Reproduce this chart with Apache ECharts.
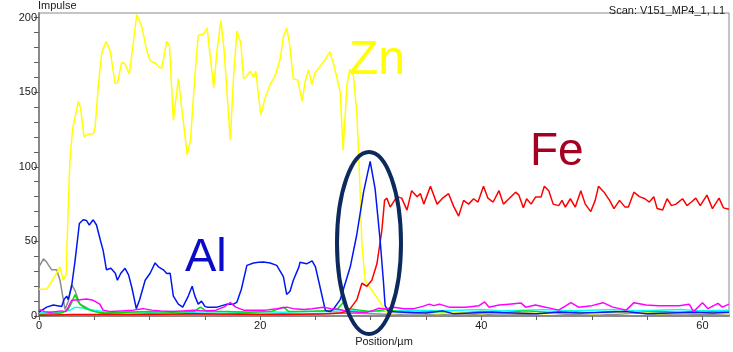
<!DOCTYPE html>
<html lang="en">

<head>
  <meta charset="UTF-8">
  <title>Impulse profile</title>
  <script src="https://cdn.jsdelivr.net/npm/echarts@6/dist/echarts.min.js"></script>
  <style>
    html, body { margin: 0; padding: 0; background: #fff; }
  </style>
</head>

<body>
  <div id="main" style="width:733px;height:352px;"></div>
</body>
<script>
  // [position µm, impulse]
  let zn = [
    [0, 18], [0.7, 18], [1.3, 25], [1.9, 33], [2.2, 24], [2.45, 28], [2.65, 74], [2.8, 105], [3.05, 126], [3.26, 133],
    [3.56, 144], [3.77, 139], [4.07, 120], [4.46, 122], [4.9, 122], [5.07, 126], [5.37, 155], [5.67, 176], [6.06, 184],
    [6.43, 178], [6.88, 156], [7.09, 156], [7.48, 170], [7.78, 169], [8.17, 162], [8.53, 183], [8.84, 202], [9.29, 194],
    [9.74, 178], [10.05, 171], [10.6, 169], [10.8, 167], [11.1, 166], [11.55, 184], [11.8, 181], [12.15, 131], [12.3, 131],
    [12.6, 159], [12.77, 158], [13.4, 108], [13.7, 118], [14.1, 161], [14.4, 188], [14.9, 189], [15.2, 193], [15.8, 153],
    [16.1, 178], [16.45, 198], [16.74, 178], [17.3, 118], [17.6, 161], [17.9, 191], [18.25, 183], [18.5, 159], [18.8, 161],
    [19.1, 164], [19.4, 160], [19.6, 164], [20.06, 135], [20.45, 146], [20.9, 155], [21.36, 161], [21.8, 172], [22.1, 187],
    [22.4, 193], [22.65, 183], [23.0, 159], [23.4, 158], [23.8, 144], [24.07, 157], [24.37, 165], [24.68, 155], [24.97, 163],
    [25.4, 167], [25.9, 172], [26.3, 177], [26.6, 170], [26.9, 161], [27.24, 150], [27.5, 111], [27.85, 155], [28.1, 165],
    [28.44, 161], [28.75, 135], [29.0, 92], [29.2, 48], [29.5, 24], [29.95, 19], [30.5, 13], [30.86, 9], [31.2, 5],
    [31.5, 2], [32, 1.5], [34, 2.5], [36, 1.5], [38, 2.5], [40, 1.5], [42, 2.5], [44, 2], [46, 1.5], [48, 2.5], [50, 1.5],
    [52, 2], [54, 2.5], [56, 1.5], [58, 2], [60, 2.5], [62.4, 1.5]
  ]

  let fe = [
    [0, 0.5], [3, 1], [6, 1], [10, 1], [14, 1.5], [18, 1.2], [22, 1], [26, 1.5], [27.2, 2], [27.7, 3], [28.15, 5],
    [28.75, 11], [29.2, 22], [29.65, 20], [30.1, 24], [30.56, 35], [31.0, 57], [31.25, 77.5], [31.46, 79], [31.76, 73],
    [32.37, 80], [32.8, 79], [33.28, 71], [33.7, 84], [34.2, 80], [34.5, 82], [34.8, 75], [35.4, 87], [36.0, 75],
    [36.5, 79], [37.04, 82], [37.5, 73.5], [37.95, 67], [38.4, 77.5], [38.85, 75], [39.3, 78.6], [39.7, 76.4], [40.2, 87],
    [40.6, 79], [41.07, 76.4], [41.6, 84], [42.0, 75], [42.5, 78.6], [43.1, 83], [43.4, 81], [43.8, 72.5], [44.1, 78.6],
    [44.5, 75], [44.9, 79.7], [45.4, 79.7], [45.7, 87], [46.1, 84], [46.5, 75], [47.0, 74], [47.3, 77.5], [47.6, 73],
    [48.05, 78.6], [48.5, 73], [49.0, 84], [49.4, 75], [49.9, 70], [50.3, 77.5], [50.6, 87], [51.1, 83], [51.6, 77.5],
    [52.0, 72], [52.5, 77.5], [53.0, 73], [53.3, 73], [53.8, 83], [54.3, 80], [54.8, 78.6], [55.2, 76.4], [55.6, 80],
    [55.9, 72], [56.4, 71], [56.8, 78.6], [57.2, 74], [57.6, 75], [58.2, 78.6], [58.6, 74], [59.0, 76.4], [59.4, 79],
    [59.8, 74], [60.4, 81], [60.9, 72], [61.5, 79], [61.9, 72.5], [62.4, 71.5]
  ]

  let al = [
    [0, 2.6], [0.7, 6], [1.3, 7.4], [2.05, 6.5], [2.26, 11], [2.5, 13.4], [2.65, 11], [2.95, 20], [3.26, 37], [3.65, 62],
    [4.0, 64.5], [4.3, 64], [4.55, 61], [4.9, 64.5], [5.2, 61], [5.58, 50], [5.8, 44], [6.1, 31], [6.5, 32], [6.9, 28.7],
    [7.09, 24], [7.4, 28.7], [7.78, 32], [8.1, 27.6], [8.4, 19], [8.8, 5], [9.1, 11], [9.6, 24], [10.05, 28.7],
    [10.5, 35.6], [10.8, 33], [11.25, 31], [11.55, 28.6], [11.86, 28.7], [12.15, 13.4], [12.6, 8], [13.0, 6], [13.5, 13.4],
    [13.85, 20], [14.1, 13.4], [14.4, 8], [14.7, 10], [15.0, 6.5], [15.2, 6], [16.1, 6], [17.0, 8], [17.6, 8], [17.9, 9.4],
    [18.3, 18], [18.8, 34], [19.4, 35.6], [19.85, 36], [20.3, 36.3], [20.9, 35.6], [21.5, 34], [22.1, 26.5], [22.4, 14.5],
    [22.7, 16.7], [23.0, 24], [23.5, 32.8], [23.6, 36], [24.2, 35], [24.7, 37], [25.0, 33], [25.4, 20], [25.9, 3.7],
    [26.3, 3], [26.6, 4.4], [27.24, 11], [28.15, 33], [28.75, 55], [29.35, 83], [29.95, 103.6], [30.4, 85], [30.86, 50],
    [31.16, 22], [31.3, 7], [31.6, 3], [33, 2.5], [35, 2], [36.5, 3.5], [37.5, 1.5], [39, 2], [41, 2.5], [43, 2], [45, 1.5],
    [47, 2.5], [49, 2], [51, 2.5], [53, 3], [55, 1.5], [57, 2], [59, 2.5], [61, 2], [62.4, 2.5]
  ]

  let magenta = [
    [0, 4.5], [0.5, 3], [1, 2.5], [1.5, 3], [2, 3.5], [2.4, 3], [2.65, 6], [2.95, 10.6], [3.7, 11], [4.3, 11.5],
    [4.9, 10.6], [5.5, 8], [5.8, 4], [6.5, 3], [7.5, 3.5], [8.5, 4], [9.4, 5], [10.2, 4], [11, 3.5], [12, 3], [13, 3.5],
    [14, 4], [15, 3.5], [16, 4], [16.7, 6], [17.3, 9], [17.8, 6], [18.5, 4], [19.5, 4], [20.5, 4], [21.5, 5], [22.4, 6],
    [23, 5], [24, 4.5], [24.7, 5], [25.7, 6], [26.4, 5], [27.2, 4.4], [28, 3], [29, 2.5], [29.65, 2.6], [30.3, 4],
    [30.7, 5.2], [31.3, 4.8], [32.1, 6], [33, 5], [33.9, 5], [34.7, 6.5], [35.3, 8], [35.7, 7], [36.2, 8], [37.1, 6],
    [38.6, 6], [39.8, 7], [40.3, 9.5], [40.7, 6], [41.6, 7.4], [42.5, 8], [43.6, 8.7], [44, 6], [44.9, 7.4], [45.8, 6],
    [47, 4], [48.1, 9], [48.8, 6], [50, 7], [51, 9], [51.9, 6], [53.1, 4], [53.8, 9], [54.9, 7.4], [56, 7], [57, 7],
    [57.9, 7], [58.8, 8], [59.2, 3], [60, 9], [60.5, 5], [61.4, 8.5], [61.8, 6], [62.4, 8]
  ]

  let gray = [
    [0, 33], [0.4, 38.4], [0.7, 36], [1.15, 31], [1.6, 31], [1.9, 24], [2.2, 11], [2.35, 4.5], [2.65, 10], [2.95, 21],
    [3.26, 17], [3.7, 8], [4.6, 4.5], [5.5, 2], [6.5, 1.5], [8, 1], [10, 1.5], [12, 1], [14, 1.5], [16, 1], [18, 1.5],
    [20, 1], [22, 1.5], [24, 1], [26, 1.5], [28, 2], [30, 1.5], [32, 1], [34, 1.5], [36, 1], [38, 1.5], [40, 1], [42, 1.5],
    [44, 1], [46, 2], [48, 1], [50, 1.5], [52, 1], [54, 2], [56, 1], [58, 1.5], [60, 1], [62.4, 1.5]
  ]

  let green = [
    [0, 1], [1, 1.5], [2, 2], [2.6, 4], [2.95, 9], [3.26, 14.5], [3.5, 10], [3.7, 8], [4.2, 5], [5, 3], [6, 2], [8, 2.5],
    [10, 3], [12, 2.5], [14, 3], [14.6, 6], [15.2, 3], [17, 3], [19, 2.5], [21, 3], [22.1, 6], [22.6, 3], [24, 3],
    [26, 3.5], [27, 5], [27.5, 9], [28, 5], [29, 4], [30, 3], [31.5, 4.5], [32.5, 3], [34, 2.5], [36, 3], [38, 2], [40, 3],
    [42, 2.5], [44, 3.5], [46, 2.5], [48, 3], [50, 2], [52, 3], [54, 2.5], [56, 3], [58, 2.5], [60, 3], [62.4, 2.5]
  ]

  let cyan = [
    [0, 2], [1, 2.5], [2, 2.5], [2.8, 4], [3.3, 6], [4, 5.5], [5, 4], [6, 3], [7, 2.5], [8, 3], [10, 2.5], [12, 3],
    [14, 2.5], [16, 3], [18, 2.5], [20, 3], [22, 2.5], [24, 3], [26, 3], [28, 3.5], [30, 3], [32, 3.5], [34, 4], [36, 3.5],
    [38, 4], [40, 4.5], [42, 3.5], [44, 4], [46, 4.5], [48, 3.5], [50, 4], [52, 4.5], [54, 3.5], [56, 4], [58, 4.5],
    [60, 3.5], [62.4, 4]
  ]

  initChart()

  function line(data, color) {
    return {
      type: 'line',
      data: data,
      symbol: 'none',
      lineStyle: { color: color, width: 1.5 },
      silent: true
    }
  }

  function initChart() {
    let myChart = echarts.init(document.getElementById('main'));
    let textStyle = { fontFamily: 'Liberation Sans', fontSize: 11, color: '#202020' }
    let option = {
      animation: false,
      grid: {
        left: 39, right: 4, top: 12, bottom: 28,
        show: true, borderColor: '#8a8a8a', borderWidth: 1
      },
      title: {
        text: 'Scan: V151_MP4_1, L1',
        right: 3, top: 0,
        textStyle: Object.assign({ fontWeight: 'normal' }, textStyle)
      },
      xAxis: {
        type: 'value',
        min: 0, max: 62.4, interval: 5,
        name: 'Position/µm',
        nameLocation: 'middle',
        nameGap: 19,
        nameTextStyle: textStyle,
        axisLine: { lineStyle: { color: '#8a8a8a', width: 2 } },
        axisTick: { length: 4, lineStyle: { color: '#606060' } },
        axisLabel: Object.assign({
          margin: 4,
          showMaxLabel: false,
          formatter: v => (v % 20 === 0 ? String(v) : '')
        }, textStyle),
        splitLine: { show: false }
      },
      yAxis: {
        type: 'value',
        min: 0, max: 203, interval: 10,
        name: 'Impulse',
        nameLocation: 'end',
        nameGap: 2,
        nameTextStyle: Object.assign({ align: 'left', padding: [0, 0, 0, -1] }, textStyle),
        axisLine: { lineStyle: { color: '#8a8a8a', width: 2 } },
        axisTick: { length: 5, lineStyle: { color: '#606060' } },
        axisLabel: Object.assign({
          margin: 2,
          showMaxLabel: false,
          formatter: v => (v % 50 === 0 ? String(v) : '')
        }, textStyle),
        splitLine: { show: false }
      },
      graphic: [
        {
          type: 'ellipse', silent: true, z: 100,
          shape: { cx: 369, cy: 243, rx: 32, ry: 91 },
          style: { fill: 'none', stroke: '#0c2a5e', lineWidth: 4 }
        },
        {
          type: 'text', silent: true, z: 100,
          style: { text: 'Zn', x: 349, y: 61, fill: '#ffff00', font: '48px "Liberation Sans"', verticalAlign: 'middle' }
        },
        {
          type: 'text', silent: true, z: 100,
          style: { text: 'Fe', x: 530, y: 152, fill: '#a50021', font: '46px "Liberation Sans"', verticalAlign: 'middle' }
        },
        {
          type: 'text', silent: true, z: 100,
          style: { text: 'Al', x: 185, y: 258, fill: '#0a0ac8', font: '47px "Liberation Sans"', verticalAlign: 'middle' }
        }
      ],
      series: [
        line(gray, '#8c8c8c'),
        line(cyan, '#00ffff'),
        line(green, '#00e000'),
        line(zn, '#ffff00'),
        line(fe, '#ff0000'),
        line(al, '#0018f0'),
        line(magenta, '#ff00ff')
      ]
    }
    myChart.setOption(option);
  }
</script>

</html>
